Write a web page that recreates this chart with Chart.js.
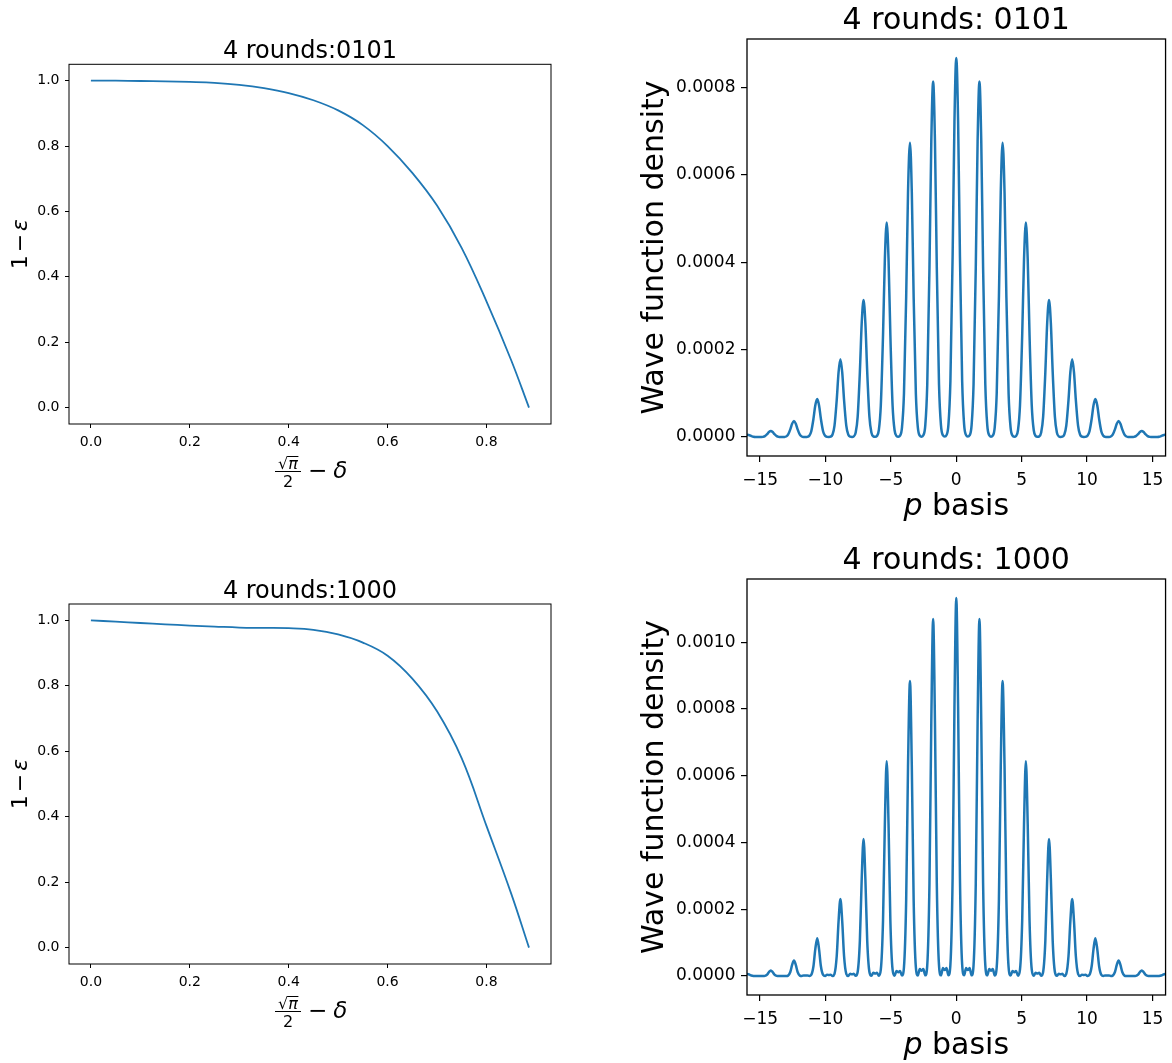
<!DOCTYPE html>
<html><head><meta charset="utf-8">
<script src="https://cdn.jsdelivr.net/npm/chart.js@4.4.1/dist/chart.umd.min.js"></script>
<style>
html,body{margin:0;padding:0;background:#fff;}
body{width:1172px;height:1063px;position:relative;overflow:hidden;}
canvas{position:absolute;}
</style></head><body>
<canvas id="c1" width="580" height="530" style="left:0;top:0;width:580px;height:530px"></canvas>
<canvas id="c2" width="592" height="530" style="left:580px;top:0;width:592px;height:530px"></canvas>
<canvas id="c3" width="580" height="533" style="left:0;top:530px;width:580px;height:533px"></canvas>
<canvas id="c4" width="592" height="533" style="left:580px;top:530px;width:592px;height:533px"></canvas>
<script>
// ---------- data ----------
const fidelityX = [0, 0.05, 0.1, 0.15, 0.2, 0.25, 0.3, 0.35, 0.4, 0.45, 0.5, 0.55, 0.6, 0.65, 0.7, 0.75, 0.8, 0.85, 0.886];
const fidelity0101 = [1.000, 1.000, 0.999, 0.998, 0.996, 0.993, 0.987, 0.977, 0.962, 0.940, 0.909, 0.864, 0.800, 0.718, 0.618, 0.488, 0.325, 0.145, 0.000];
const fidelity1000 = [1.000, 0.996, 0.992, 0.988, 0.984, 0.981, 0.978, 0.977, 0.976, 0.971, 0.957, 0.932, 0.892, 0.822, 0.722, 0.578, 0.372, 0.165, 0.000];
const fidelityXTicks = [0, 0.2, 0.4, 0.6, 0.8];
const fidelityYTicks = [0, 0.2, 0.4, 0.6, 0.8, 1.0];

const pBasisX = [-16,
-15.95,-15.81,-15.67,-15.50,-15.35,-15.20,-15.06,-14.93,-14.78,-14.63,-14.46,-14.32,
-14.18,-14.04,-13.90,-13.73,-13.58,-13.43,-13.29,-13.16,-13.01,-12.86,-12.69,-12.55,
-12.41,-12.27,-12.13,-11.96,-11.81,-11.66,-11.52,-11.39,-11.24,-11.09,-10.92,-10.78,
-10.63,-10.49,-10.35,-10.18,-10.03,-9.88,-9.74,-9.61,-9.46,-9.31,-9.14,-9.00,
-8.86,-8.72,-8.58,-8.41,-8.26,-8.11,-7.97,-7.84,-7.69,-7.54,-7.37,-7.23,
-7.09,-6.95,-6.81,-6.64,-6.49,-6.34,-6.20,-6.07,-5.92,-5.77,-5.60,-5.46,
-5.32,-5.18,-5.04,-4.87,-4.72,-4.57,-4.43,-4.30,-4.15,-4.00,-3.83,-3.69,
-3.54,-3.40,-3.26,-3.09,-2.94,-2.79,-2.65,-2.52,-2.37,-2.22,-2.05,-1.91,
-1.77,-1.63,-1.49,-1.32,-1.17,-1.02,-0.88,-0.75,-0.60,-0.45,-0.28,-0.14,
0,0.14,0.28,0.45,0.60,0.75,0.88,1.02,1.17,1.32,1.49,1.63,
1.77,1.91,2.05,2.22,2.37,2.52,2.65,2.79,2.94,3.09,3.26,3.40,
3.54,3.69,3.83,4.00,4.15,4.30,4.43,4.57,4.72,4.87,5.04,5.18,
5.32,5.46,5.60,5.77,5.92,6.07,6.20,6.34,6.49,6.64,6.81,6.95,
7.09,7.23,7.37,7.54,7.69,7.84,7.97,8.11,8.26,8.41,8.58,8.72,
8.86,9.00,9.14,9.31,9.46,9.61,9.74,9.88,10.03,10.18,10.35,10.49,
10.63,10.78,10.92,11.09,11.24,11.39,11.52,11.66,11.81,11.96,12.13,12.27,
12.41,12.55,12.69,12.86,13.01,13.16,13.29,13.43,13.58,13.73,13.90,14.04,
14.18,14.32,14.46,14.63,14.78,14.93,15.06,15.20,15.35,15.50,15.67,15.81,
15.95,16];

const density0101 = [4.9e-6,
5e-6,4.2e-6,2.4e-6,0.7e-6,0.17e-6,0.02e-6,0.01e-6,0.07e-6,0.46e-6,2.1e-6,6.7e-6,11.6e-6,
14e-6,11.6e-6,6.7e-6,2.1e-6,0.46e-6,0.07e-6,0.03e-6,0.18e-6,1.2e-6,5.4e-6,17.6e-6,30.7e-6,
37e-6,30.7e-6,17.6e-6,5.4e-6,1.2e-6,0.18e-6,0.07e-6,0.43e-6,2.9e-6,12.8e-6,41.5e-6,72.3e-6,
87e-6,72.3e-6,41.5e-6,12.8e-6,2.9e-6,0.43e-6,0.16e-6,0.87e-6,5.9e-6,26.2e-6,84.9e-6,147.9e-6,
178e-6,147.9e-6,84.9e-6,26.2e-6,5.9e-6,0.87e-6,0.3e-6,1.5e-6,10.4e-6,46.2e-6,149.8e-6,260.9e-6,
314e-6,260.9e-6,149.8e-6,46.2e-6,10.4e-6,1.5e-6,0.5e-6,2.4e-6,16.2e-6,72.2e-6,234.2e-6,408e-6,
491e-6,408e-6,234.2e-6,72.2e-6,16.2e-6,2.4e-6,0.7e-6,3.3e-6,22.2e-6,99.1e-6,321.5e-6,560.1e-6,
674e-6,560.1e-6,321.5e-6,99.1e-6,22.2e-6,3.3e-6,0.9e-6,4.0e-6,26.9e-6,119.7e-6,388.3e-6,676.4e-6,
814e-6,676.4e-6,388.3e-6,119.7e-6,26.9e-6,4.0e-6,1.0e-6,4.3e-6,28.6e-6,127.6e-6,414e-6,721.3e-6,
868e-6,721.3e-6,414e-6,127.6e-6,28.6e-6,4.3e-6,1.0e-6,4.0e-6,26.9e-6,119.7e-6,388.3e-6,676.4e-6,
814e-6,676.4e-6,388.3e-6,119.7e-6,26.9e-6,4.0e-6,0.9e-6,3.3e-6,22.2e-6,99.1e-6,321.5e-6,560.1e-6,
674e-6,560.1e-6,321.5e-6,99.1e-6,22.2e-6,3.3e-6,0.7e-6,2.4e-6,16.2e-6,72.2e-6,234.2e-6,408e-6,
491e-6,408e-6,234.2e-6,72.2e-6,16.2e-6,2.4e-6,0.5e-6,1.5e-6,10.4e-6,46.2e-6,149.8e-6,260.9e-6,
314e-6,260.9e-6,149.8e-6,46.2e-6,10.4e-6,1.5e-6,0.3e-6,0.87e-6,5.9e-6,26.2e-6,84.9e-6,147.9e-6,
178e-6,147.9e-6,84.9e-6,26.2e-6,5.9e-6,0.87e-6,0.16e-6,0.43e-6,2.9e-6,12.8e-6,41.5e-6,72.3e-6,
87e-6,72.3e-6,41.5e-6,12.8e-6,2.9e-6,0.43e-6,0.07e-6,0.18e-6,1.2e-6,5.4e-6,17.6e-6,30.7e-6,
37e-6,30.7e-6,17.6e-6,5.4e-6,1.2e-6,0.18e-6,0.03e-6,0.07e-6,0.46e-6,2.1e-6,6.7e-6,11.6e-6,
14e-6,11.6e-6,6.7e-6,2.1e-6,0.46e-6,0.07e-6,0.01e-6,0.02e-6,0.17e-6,0.7e-6,2.4e-6,4.2e-6,
5e-6,4.9e-6];

const density1000 = [5e-6,
6e-6,4.3e-6,1.6e-6,0.2e-6,0,0,0,0,0,0.5e-6,4.4e-6,12.1e-6,
17e-6,12.1e-6,4.4e-6,0.5e-6,0,0,0,0,0.1e-6,1.4e-6,12.2e-6,33.4e-6,
47e-6,33.4e-6,12.2e-6,1.4e-6,0.1e-6,2e-6,1.5e-6,2e-6,0.2e-6,3.4e-6,29.4e-6,80.2e-6,
113e-6,80.2e-6,29.4e-6,3.4e-6,0.2e-6,4e-6,3e-6,4e-6,0.5e-6,6.9e-6,60.1e-6,164e-6,
231e-6,164e-6,60.1e-6,6.9e-6,0.5e-6,7e-6,5.3e-6,7e-6,0.8e-6,12.3e-6,106.9e-6,291.8e-6,
411e-6,291.8e-6,106.9e-6,12.3e-6,0.8e-6,10e-6,7.5e-6,10e-6,1.3e-6,19.3e-6,167.4e-6,457.2e-6,
644e-6,457.2e-6,167.4e-6,19.3e-6,1.3e-6,15e-6,11.3e-6,15e-6,1.8e-6,26.5e-6,229.8e-6,627.6e-6,
884e-6,627.6e-6,229.8e-6,26.5e-6,1.8e-6,21e-6,15.8e-6,21e-6,2.1e-6,32.1e-6,278.2e-6,759.7e-6,
1070e-6,759.7e-6,278.2e-6,32.1e-6,2.1e-6,24e-6,18e-6,24e-6,2.3e-6,34e-6,294.6e-6,804.4e-6,
1133e-6,804.4e-6,294.6e-6,34e-6,2.3e-6,24e-6,18e-6,24e-6,2.1e-6,32.1e-6,278.2e-6,759.7e-6,
1070e-6,759.7e-6,278.2e-6,32.1e-6,2.1e-6,21e-6,15.8e-6,21e-6,1.8e-6,26.5e-6,229.8e-6,627.6e-6,
884e-6,627.6e-6,229.8e-6,26.5e-6,1.8e-6,15e-6,11.3e-6,15e-6,1.3e-6,19.3e-6,167.4e-6,457.2e-6,
644e-6,457.2e-6,167.4e-6,19.3e-6,1.3e-6,10e-6,7.5e-6,10e-6,0.8e-6,12.3e-6,106.9e-6,291.8e-6,
411e-6,291.8e-6,106.9e-6,12.3e-6,0.8e-6,7e-6,5.3e-6,7e-6,0.5e-6,6.9e-6,60.1e-6,164e-6,
231e-6,164e-6,60.1e-6,6.9e-6,0.5e-6,4e-6,3e-6,4e-6,0.2e-6,3.4e-6,29.4e-6,80.2e-6,
113e-6,80.2e-6,29.4e-6,3.4e-6,0.2e-6,2e-6,1.5e-6,2e-6,0.1e-6,1.4e-6,12.2e-6,33.4e-6,
47e-6,33.4e-6,12.2e-6,1.4e-6,0.1e-6,0,0,0,0,0.5e-6,4.4e-6,12.1e-6,
17e-6,12.1e-6,4.4e-6,0.5e-6,0,0,0,0,0,0.2e-6,1.6e-6,4.3e-6,
6e-6,5e-6];

const pTicks = [-15, -10, -5, 0, 5, 10, 15];
const density0101Ticks = [0, 0.0002, 0.0004, 0.0006, 0.0008];
const density1000Ticks = [0, 0.0002, 0.0004, 0.0006, 0.0008, 0.0010];

// ---------- helpers ----------
Chart.defaults.font.family = "'DejaVu Sans', sans-serif";
Chart.defaults.color = '#000';
const FAM = '"DejaVu Sans"';
const LINE = '#1f77b4';

const frame = {
  id: 'frame',
  afterDatasetsDraw(chart, args, opts) {
    const {ctx, chartArea: a} = chart;
    ctx.save();
    ctx.strokeStyle = '#000';
    ctx.lineWidth = opts.width || 1;
    ctx.strokeRect(a.left, a.top, a.right - a.left, a.bottom - a.top);
    ctx.restore();
  }
};

const fidelityLabels = {
  id: 'fidelityLabels',
  afterDraw(chart) {
    const {ctx, chartArea: a} = chart;
    const cx = (a.left + a.right) / 2, cy = (a.top + a.bottom) / 2;
    const R = s => s + 'px ' + FAM, I = s => 'italic ' + s + 'px ' + FAM;
    ctx.save();
    ctx.fillStyle = '#000'; ctx.strokeStyle = '#000';
    ctx.textBaseline = 'alphabetic'; ctx.textAlign = 'left';
    // x label: sqrt(pi)/2 - delta
    const fx = cx - 22;
    ctx.font = R(16); const wr = ctx.measureText('\u221A').width;
    ctx.font = I(16); const wp = ctx.measureText('\u03C0').width;
    const nx = fx - (wr + wp) / 2, ny = a.bottom + 45;
    ctx.font = R(16); ctx.fillText('\u221A', nx, ny);
    ctx.font = I(16); ctx.fillText('\u03C0', nx + wr, ny);
    ctx.lineWidth = 1;
    ctx.beginPath(); ctx.moveTo(nx + wr - 1, ny - 12.5); ctx.lineTo(nx + wr + wp + 0.5, ny - 12.5); ctx.stroke();
    ctx.beginPath(); ctx.moveTo(fx - 13, a.bottom + 47.5); ctx.lineTo(fx + 13, a.bottom + 47.5); ctx.stroke();
    ctx.font = R(16); ctx.textAlign = 'center'; ctx.fillText('2', fx, a.bottom + 63.3);
    ctx.font = R(23); ctx.textAlign = 'center'; ctx.fillText('\u2212', cx + 7.6, a.bottom + 54.3);
    ctx.font = I(23); ctx.textAlign = 'left'; ctx.fillText('\u03B4', cx + 23.3, a.bottom + 54.3);
    // y label: 1 - epsilon
    ctx.translate(a.left - 42, cy); ctx.rotate(-Math.PI / 2);
    ctx.font = R(22); const w1 = ctx.measureText('1').width, wm = ctx.measureText('\u2212').width;
    ctx.font = I(22); const we = ctx.measureText('\u03B5').width;
    const g = 3, tot = w1 + g + wm + g + we;
    let x = -tot / 2;
    ctx.textAlign = 'left';
    ctx.font = R(22); ctx.fillText('1', x, 0); x += w1 + g;
    ctx.fillText('\u2212', x, 0); x += wm + g;
    ctx.font = I(22); ctx.fillText('\u03B5', x, 0);
    ctx.restore();
  }
};

const pLabel = {
  id: 'pLabel',
  afterDraw(chart) {
    const {ctx, chartArea: a} = chart;
    const it = 'italic 30px ' + FAM, rm = '30px ' + FAM;
    ctx.save();
    ctx.fillStyle = '#000'; ctx.textBaseline = 'alphabetic'; ctx.textAlign = 'left';
    ctx.font = it; const w1 = ctx.measureText('p').width;
    ctx.font = rm; const w2 = ctx.measureText(' basis').width;
    const x = (a.left + a.right) / 2 - (w1 + w2) / 2, y = a.bottom + 59;
    ctx.font = it; ctx.fillText('p', x, y);
    ctx.font = rm; ctx.fillText(' basis', x + w1, y);
    ctx.restore();
  }
};

function fidelityChart(id, title, values, g) {
  return new Chart(document.getElementById(id), {
    type: 'line',
    data: { datasets: [{ data: fidelityX.map((x, i) => ({x, y: values[i]})), borderColor: LINE, borderWidth: 1.8,
      pointRadius: 0, tension: 0.4, fill: false }] },
    options: {
      responsive: false, animation: false, events: [],
      layout: { padding: { top: g.padTop, left: 0, right: g.padRight, bottom: 0 } },
      plugins: {
        legend: { display: false }, tooltip: { enabled: false },
        title: { display: true, text: title, fullSize: false, color: '#000',
          font: { size: 24, weight: 'normal', lineHeight: 1.05 }, padding: { top: 0, bottom: 0 } },
        frame: { width: 1 }
      },
      scales: {
        x: { type: 'linear', min: -0.0443, max: 0.9305,
          afterFit(s) { s.height = g.xH; },
          afterBuildTicks(s) { s.ticks = fidelityXTicks.map(v => ({value: v})); },
          ticks: { font: { size: 14 }, color: '#000', padding: 5.9, maxRotation: 0, autoSkip: false, callback: v => v.toFixed(1) },
          grid: { drawOnChartArea: false, drawTicks: true, tickLength: 4, color: '#000', lineWidth: 1 },
          border: { display: false } },
        y: { type: 'linear', min: -0.05, max: 1.05,
          afterFit(s) { s.width = 69; },
          afterBuildTicks(s) { s.ticks = fidelityYTicks.map(v => ({value: v})); },
          ticks: { font: { size: 14 }, color: '#000', padding: 5.5, autoSkip: false, callback: v => v.toFixed(1) },
          grid: { drawOnChartArea: false, drawTicks: true, tickLength: 4, color: '#000', lineWidth: 1 },
          border: { display: false } }
      }
    },
    plugins: [frame, fidelityLabels]
  });
}

function densityChart(id, title, values, yTicks, yMin, yMax, g) {
  return new Chart(document.getElementById(id), {
    type: 'line',
    data: { datasets: [{ data: pBasisX.map((x, i) => ({x, y: values[i]})), borderColor: LINE, borderWidth: 2.5,
      pointRadius: 0, cubicInterpolationMode: 'monotone', fill: false }] },
    options: {
      responsive: false, animation: false, events: [],
      layout: { padding: { top: g.padTop, left: 0, right: g.padRight, bottom: 0 } },
      plugins: {
        legend: { display: false }, tooltip: { enabled: false },
        title: { display: true, text: title, fullSize: false, color: '#000',
          font: { size: 30, weight: 'normal' }, padding: { top: 0, bottom: g.titlePad } },
        frame: { width: 1.3 }
      },
      scales: {
        x: { type: 'linear', min: -16, max: 16,
          afterFit(s) { s.height = g.xH; },
          afterBuildTicks(s) { s.ticks = pTicks.map(v => ({value: v})); },
          ticks: { font: { size: 17 }, color: '#000', padding: 8.5, maxRotation: 0, autoSkip: false,
            callback: v => (v < 0 ? '\u2212' + Math.abs(v) : String(v)) },
          grid: { drawOnChartArea: false, drawTicks: true, tickLength: 6, color: '#000', lineWidth: 1.2 },
          border: { display: false } },
        y: { type: 'linear', min: yMin, max: yMax,
          afterFit(s) { s.width = 167; },
          afterBuildTicks(s) { s.ticks = yTicks.map(v => ({value: v})); },
          title: { display: true, text: 'Wave function density', color: '#000', font: { size: 30 }, padding: { top: 57, bottom: 0 } },
          ticks: { font: { size: 17 }, color: '#000', padding: 5.5, autoSkip: false, callback: v => v.toFixed(4) },
          grid: { drawOnChartArea: false, drawTicks: true, tickLength: 6, color: '#000', lineWidth: 1.2 },
          border: { display: false } }
      }
    },
    plugins: [frame, pLabel]
  });
}

fidelityChart('c1', '4 rounds:0101', fidelity0101, { padTop: 39.1, padRight: 29, xH: 106 });
fidelityChart('c3', '4 rounds:1000', fidelity1000, { padTop: 48.8, padRight: 29, xH: 99 });
densityChart('c2', '4 rounds: 0101', density0101, density0101Ticks, -0.0000434, 0.0009114, { padTop: 3, padRight: 6, xH: 74, titlePad: 0 });
densityChart('c4', '4 rounds: 1000', density1000, density1000Ticks, -0.0000567, 0.0011897, { padTop: 13, padRight: 6, xH: 68, titlePad: 0 });
</script>
</body></html>
